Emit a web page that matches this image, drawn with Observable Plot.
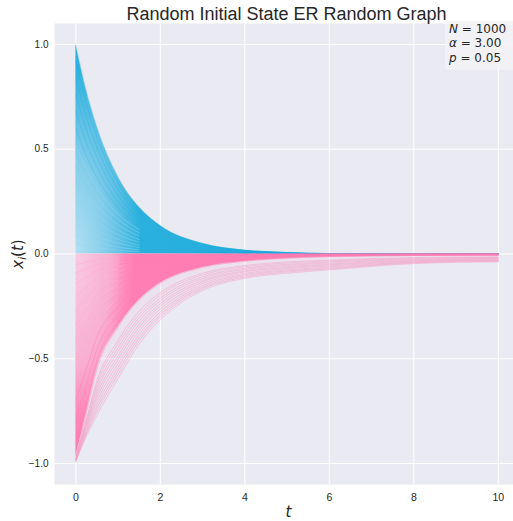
<!DOCTYPE html>
<html>
<head>
<meta charset="utf-8">
<script src="https://cdn.jsdelivr.net/npm/d3@7"></script>
<script src="https://cdn.jsdelivr.net/npm/@observablehq/plot@0.6"></script>
<style>
  html, body { margin: 0; padding: 0; background: #ffffff; overflow: hidden; }
  #chart svg { display: block; }
</style>
</head>
<body>
<div id="chart"></div>
<script>
// ---- data ----
const title = "Random Initial State ER Random Graph";
const times = [0, 0.25, 0.5, 1, 1.5, 2, 3, 4, 5, 6, 8, 10];
const xTicks = [0, 2, 4, 6, 8, 10];
const yTicks = [-1, -0.5, 0, 0.5, 1];
const annotation = [["N", " = 1000"], ["α", " = 3.00"], ["p", " = 0.05"]];

// positive initial states (blue), values at each time in `times`
const blueCurves = [
  [1.00, 0.779, 0.607, 0.368, 0.223, 0.135, 0.050, 0.018, 0.007, 0.002, 0, 0],
  [0.92, 0.717, 0.558, 0.339, 0.205, 0.124, 0.046, 0.017, 0.006, 0.002, 0, 0],
  [0.84, 0.654, 0.510, 0.309, 0.187, 0.113, 0.042, 0.015, 0.006, 0.002, 0, 0],
  [0.76, 0.592, 0.461, 0.280, 0.169, 0.103, 0.038, 0.014, 0.005, 0.002, 0, 0],
  [0.68, 0.530, 0.413, 0.250, 0.152, 0.092, 0.034, 0.012, 0.005, 0.001, 0, 0],
  [0.60, 0.467, 0.364, 0.221, 0.134, 0.081, 0.030, 0.011, 0.004, 0.001, 0, 0],
  [0.52, 0.405, 0.316, 0.191, 0.116, 0.070, 0.026, 0.010, 0.004, 0.001, 0, 0],
  [0.45, 0.351, 0.273, 0.166, 0.100, 0.061, 0.023, 0.008, 0.003, 0.001, 0, 0],
  [0.38, 0.296, 0.231, 0.140, 0.085, 0.051, 0.019, 0.007, 0.003, 0.001, 0, 0],
  [0.31, 0.241, 0.188, 0.114, 0.069, 0.042, 0.016, 0.006, 0.002, 0.001, 0, 0],
  [0.25, 0.195, 0.152, 0.092, 0.056, 0.034, 0.013, 0.005, 0.002, 0, 0, 0],
  [0.19, 0.148, 0.115, 0.070, 0.042, 0.026, 0.010, 0.003, 0.001, 0, 0, 0],
  [0.14, 0.109, 0.085, 0.052, 0.031, 0.019, 0.007, 0.003, 0.001, 0, 0, 0],
  [0.09, 0.070, 0.055, 0.033, 0.020, 0.012, 0.005, 0.002, 0.001, 0, 0, 0],
  [0.05, 0.039, 0.030, 0.018, 0.011, 0.007, 0.003, 0.001, 0, 0, 0, 0]
];

// lower edge of the dense negative (pink) bundle
const pinkEdge = [-0.97, -0.76, -0.55, -0.35, -0.22, -0.14, -0.065, -0.035, -0.02, -0.013, -0.008, -0.006];

// negative initial states, fast decaying (dense pink bundle)
const pinkCurves = [
  [-0.90, -0.706, -0.510, -0.325, -0.204, -0.130, -0.060, -0.032, -0.019, -0.012, -0.007, -0.005],
  [-0.80, -0.627, -0.454, -0.289, -0.182, -0.115, -0.054, -0.029, -0.017, -0.010, -0.006, -0.005],
  [-0.70, -0.549, -0.397, -0.253, -0.159, -0.101, -0.047, -0.025, -0.015, -0.009, -0.006, -0.004],
  [-0.60, -0.470, -0.340, -0.217, -0.136, -0.086, -0.040, -0.022, -0.013, -0.008, -0.005, -0.004],
  [-0.50, -0.392, -0.284, -0.181, -0.114, -0.072, -0.034, -0.018, -0.011, -0.007, -0.004, -0.003],
  [-0.42, -0.329, -0.238, -0.152, -0.095, -0.060, -0.028, -0.015, -0.009, -0.005, -0.003, -0.003],
  [-0.34, -0.267, -0.193, -0.123, -0.077, -0.049, -0.023, -0.012, -0.007, -0.004, -0.003, -0.002],
  [-0.27, -0.212, -0.153, -0.097, -0.061, -0.039, -0.018, -0.010, -0.006, -0.004, -0.002, -0.002],
  [-0.20, -0.157, -0.113, -0.072, -0.045, -0.029, -0.013, -0.007, -0.004, -0.003, -0.002, -0.001],
  [-0.14, -0.110, -0.079, -0.051, -0.032, -0.020, -0.009, -0.005, -0.003, -0.002, -0.001, -0.001],
  [-0.09, -0.071, -0.051, -0.032, -0.020, -0.013, -0.006, -0.003, -0.002, -0.001, -0.001, -0.001],
  [-0.05, -0.039, -0.028, -0.018, -0.011, -0.007, -0.003, -0.002, -0.001, -0.001, 0, 0]
];

// negative initial states, slowly decaying (faint pink lines)
const faintCurves = [
  [-0.990, -0.870, -0.770, -0.595, -0.430, -0.314, -0.175, -0.116, -0.092, -0.076, -0.046, -0.037],
  [-0.988, -0.861, -0.752, -0.575, -0.413, -0.300, -0.166, -0.110, -0.086, -0.071, -0.043, -0.035],
  [-0.987, -0.853, -0.737, -0.558, -0.399, -0.288, -0.159, -0.104, -0.081, -0.067, -0.040, -0.032],
  [-0.986, -0.846, -0.722, -0.541, -0.384, -0.276, -0.151, -0.098, -0.076, -0.062, -0.038, -0.030],
  [-0.984, -0.837, -0.704, -0.522, -0.367, -0.262, -0.142, -0.092, -0.070, -0.057, -0.035, -0.028],
  [-0.982, -0.828, -0.686, -0.502, -0.350, -0.248, -0.133, -0.085, -0.065, -0.052, -0.032, -0.025],
  [-0.980, -0.820, -0.671, -0.485, -0.336, -0.236, -0.126, -0.080, -0.060, -0.048, -0.029, -0.023],
  [-0.979, -0.812, -0.654, -0.465, -0.319, -0.222, -0.117, -0.073, -0.054, -0.043, -0.026, -0.021],
  [-0.978, -0.804, -0.638, -0.448, -0.304, -0.210, -0.109, -0.068, -0.049, -0.038, -0.023, -0.018],
  [-0.976, -0.795, -0.620, -0.429, -0.288, -0.196, -0.100, -0.061, -0.043, -0.033, -0.020, -0.016],
  [-0.975, -0.788, -0.605, -0.411, -0.272, -0.184, -0.092, -0.055, -0.038, -0.029, -0.017, -0.014]
];

// ---- build long tables ----
const toLong = (rows) => rows.flatMap((row, i) => row.map((v, j) => ({id: i, t: times[j], v})));
const blueData = toLong(blueCurves);
const blueStreaks = toLong(blueCurves.slice(6)).filter(d => d.t <= 1.5);
const pinkData = toLong(pinkCurves.concat([pinkEdge]));
const pinkStreaks = toLong(pinkCurves.slice(3)).filter(d => d.t <= 1);
const faintData = toLong(faintCurves);
const blueEdgeData = times.map((t, j) => ({t, v: blueCurves[0][j]}));
const faintBand = times.map((t, j) => ({t, lo: faintCurves[0][j], hi: pinkEdge[j]}));
const pinkBand = times.map((t, j) => ({t, v: pinkEdge[j]}));

const curve = "monotone-x";
const fmt = d3.format(".1f");

const plot = Plot.plot({
  width: 513,
  height: 521,
  marginTop: 23,
  marginBottom: 37,
  marginLeft: 54,
  marginRight: 0,
  style: {fontFamily: "'Liberation Sans', Arial, sans-serif", fontSize: "10px", color: "#262626", background: "white"},
  x: {domain: [-0.505, 10.36]},
  y: {domain: [-1.1, 1.1]},
  marks: [
    Plot.frame({fill: "#EAEAF2", stroke: null}),
    Plot.gridX(xTicks, {stroke: "white", strokeOpacity: 1, strokeWidth: 1}),
    Plot.gridY(yTicks, {stroke: "white", strokeOpacity: 1, strokeWidth: 1}),
    Plot.axisX(xTicks, {tickSize: 0, tickPadding: 9, fontSize: 10.5, fill: "#262626", label: null, tickFormat: d3.format("d")}),
    Plot.axisY(yTicks, {tickSize: 0, tickPadding: 6, fontSize: 10, fill: "#262626", label: null, tickFormat: fmt}),
    // blue bundle
    Plot.areaY(blueEdgeData, {x: "t", y: "v", fill: "url(#blueGrad)", curve}),
    Plot.line(blueData, {x: "t", y: "v", z: "id", stroke: "#1ba9d8", strokeWidth: 0.8, strokeOpacity: 0.3, curve}),
    Plot.line(blueStreaks, {x: "t", y: "v", z: "id", stroke: "white", strokeWidth: 0.7, strokeOpacity: 0.35, curve}),
    // faint slow pink lines
    Plot.areaY(faintBand, {x: "t", y1: "lo", y2: "hi", fill: "#f2b8d3", fillOpacity: 0.15, curve}),
    Plot.line(faintData, {x: "t", y: "v", z: "id", stroke: "#f2a2c7", strokeWidth: 0.9, strokeOpacity: 0.6, curve}),
    // dense pink bundle
    Plot.areaY(pinkBand, {x: "t", y: "v", fill: "url(#pinkGrad)", curve}),
    Plot.line(pinkData, {x: "t", y: "v", z: "id", stroke: "#ff7bb2", strokeWidth: 0.9, strokeOpacity: 0.45, curve}),
    Plot.line(pinkStreaks, {x: "t", y: "v", z: "id", stroke: "white", strokeWidth: 0.7, strokeOpacity: 0.3, curve}),
    // title and x label
    Plot.text([title], {frameAnchor: "top", dx: 2.5, dy: -4, lineAnchor: "bottom", fontSize: 18, fill: "#262626"}),
    Plot.text(["t"], {frameAnchor: "bottom", dx: 4.5, dy: 32, lineAnchor: "bottom", fontSize: 15, fontStyle: "italic", fontFamily: "'DejaVu Sans', sans-serif", fill: "#262626"})
  ]
});

document.getElementById("chart").appendChild(plot);

const svg = d3.select(plot);

// gradients for the dense bundles (lighter near t = 0, saturated where curves crowd)
const defs = svg.insert("defs", ":first-child");
const bg = defs.append("radialGradient").attr("id", "blueGrad")
  .attr("gradientUnits", "userSpaceOnUse").attr("cx", 0).attr("cy", 0).attr("r", 1)
  .attr("gradientTransform", "translate(75,254) scale(65,190)");
bg.append("stop").attr("offset", 0).attr("stop-color", "#b3e0f2");
bg.append("stop").attr("offset", 0.5).attr("stop-color", "#80ccea");
bg.append("stop").attr("offset", 1).attr("stop-color", "#2cb1de");
const pg = defs.append("radialGradient").attr("id", "pinkGrad")
  .attr("gradientUnits", "userSpaceOnUse").attr("cx", 0).attr("cy", 0).attr("r", 1)
  .attr("gradientTransform", "translate(75,254) scale(60,185)");
pg.append("stop").attr("offset", 0).attr("stop-color", "#f9cbe0");
pg.append("stop").attr("offset", 0.6).attr("stop-color", "#f8afd0");
pg.append("stop").attr("offset", 0.85).attr("stop-color", "#ff8abb");
pg.append("stop").attr("offset", 1).attr("stop-color", "#ff7eb4");

// y label with subscript, and the parameter box
const yl = svg.append("text")
  .attr("transform", "translate(23,254) rotate(-90)")
  .attr("text-anchor", "middle")
  .attr("font-family", "'DejaVu Sans', sans-serif")
  .attr("font-size", 15)
  .attr("fill", "#262626");
yl.append("tspan").attr("font-style", "italic").text("x");
yl.append("tspan").attr("font-style", "italic").attr("font-size", 10.5).attr("dy", 3).text("i");
yl.append("tspan").attr("dy", -3).text("(");
yl.append("tspan").attr("font-style", "italic").text("t");
yl.append("tspan").text(")");

const box = svg.append("g").attr("text-anchor", "start");
box.append("rect")
  .attr("x", 445).attr("y", 21).attr("width", 80).attr("height", 49).attr("rx", 4)
  .attr("fill", "#f3f3f7").attr("fill-opacity", 0.85);
annotation.forEach(([v, rest], i) => {
  const t = box.append("text")
    .attr("x", 449).attr("y", 33 + i * 14.4)
    .attr("text-anchor", "start")
    .attr("font-family", "'DejaVu Sans', sans-serif")
    .attr("font-size", 12)
    .attr("fill", "#262626");
  t.append("tspan").attr("font-style", "italic").text(v);
  t.append("tspan").text(rest);
});
</script>
</body>
</html>
